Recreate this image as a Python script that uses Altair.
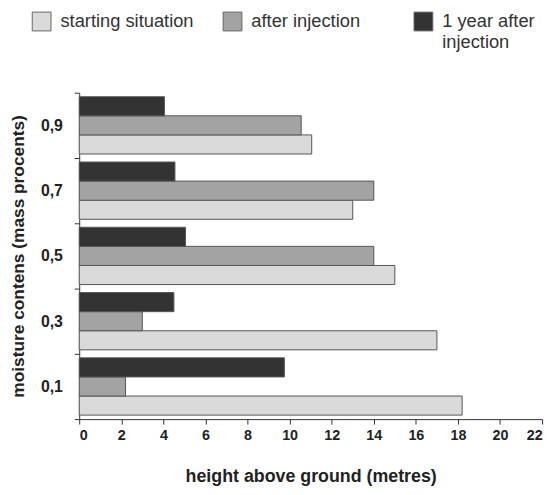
import altair as alt
import pandas as pd

categories = ["0,9", "0,7", "0,5", "0,3", "0,1"]
series = ["starting situation", "after injection", "1 year after injection"]
starting = [11.05, 13.0, 15.0, 17.0, 18.2]
after_inj = [10.55, 14.0, 14.0, 3.0, 2.2]
one_year = [4.05, 4.55, 5.05, 4.5, 9.75]
colors = ["#dadada", "#a3a3a3", "#333333"]

rows = []
for i, c in enumerate(categories):
    for s, vals in zip(series, [starting, after_inj, one_year]):
        rows.append({"moisture": c, "series": s, "height": vals[i]})
df = pd.DataFrame(rows)

font = "Liberation Sans"
NB = "\u00a0"
label_expr = (
    "datum.label == '1 year after injection' ? ['1 year after', 'injection'] : "
    "[datum.label, '" + NB + "']"
)

chart = alt.Chart(df).mark_bar(stroke="#555555", strokeWidth=1).encode(
    x=alt.X("height:Q",
            scale=alt.Scale(domain=[0, 22], nice=False),
            axis=alt.Axis(values=list(range(0, 23, 2)), title="height above ground (metres)",
                          grid=False, domainColor="#333", tickColor="#333", tickSize=5,
                          labelFont=font, labelFontSize=14.5, labelFontWeight="bold", labelColor="#222",
                          labelPadding=5, titleFont=font, titleFontSize=18, titleFontWeight="bold",
                          titleColor="#222", titlePadding=26)),
    y=alt.Y("moisture:N", sort=categories,
            scale=alt.Scale(paddingInner=0, paddingOuter=0),
            axis=alt.Axis(title="moisture contens (mass procents)", tickBand="extent",
                          domainColor="#333", tickColor="#333", tickSize=5,
                          labelFont=font, labelFontSize=16, labelFontWeight="bold", labelColor="#222",
                          labelPadding=12, titleFont=font, titleFontSize=17.5, titleFontWeight="bold",
                          titleColor="#222", titlePadding=13)),
    yOffset=alt.YOffset("series:N", sort=list(reversed(series)),
                        scale=alt.Scale(paddingInner=0, paddingOuter=0.21)),
    color=alt.Color("series:N", sort=series,
                    scale=alt.Scale(domain=series, range=colors),
                    legend=alt.Legend(title=None, orient="none", legendX=-48, legendY=-82,
                                      direction="horizontal", columns=3, columnPadding=27,
                                      gridAlign="all",
                                      symbolType="square", symbolSize=361, symbolStrokeColor="#666",
                                      symbolStrokeWidth=1, symbolOpacity=1,
                                      labelFont=font, labelFontSize=18.5, labelColor="#333",
                                      labelOffset=9, labelLimit=400, labelBaseline="middle",
                                      labelExpr=label_expr)),
).properties(
    width=468, height=330,
    autosize=alt.AutoSizeParams(type="none"),
    padding={"left": 72, "top": 83, "right": 10, "bottom": 70},
).configure_view(stroke=None)

chart.save("out.html", embed_options={"renderer": "svg", "actions": False})
